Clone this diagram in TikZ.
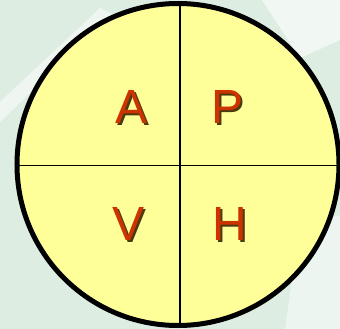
\documentclass[tikz,border=0pt]{standalone}
\usepackage{fontspec}
\setmainfont{Liberation Sans}
\definecolor{paper}{HTML}{DDEDE2}
\definecolor{disc}{HTML}{FFFF99}
\definecolor{letter}{HTML}{CC3300}
\definecolor{shade}{HTML}{4A3A10}
% letter with a small dark drop shadow
\newcommand{\shadowed}[1]{\rlap{\kern1.6pt\raisebox{-1.6pt}{\textcolor{shade}{#1}}}\textcolor{letter}{#1}}
\begin{document}
\begin{tikzpicture}[x=1pt, y=-1pt, every node/.style={font=\fontsize{48}{48}\selectfont, inner sep=0pt}]
        % faded map behind the disc
        \fill[paper] (0,0) rectangle (340,329);
        \fill[white, opacity=0.55] (0,102) -- (100,8) -- (112,14) -- (0,122) -- cycle;
        \fill[white, opacity=0.6] (262,0) -- (340,0) -- (340,40) -- (300,58) -- cycle;
        \fill[white, opacity=0.45] (300,225) -- (340,215) -- (340,329) -- (285,329) -- cycle;
        \useasboundingbox (0,0) rectangle (340,329);
        \coordinate (c) at (178,164.5);
        \coordinate (n) at (180,3);
        \coordinate (s) at (180,326);
        \coordinate (w) at (16,165.5);
        \coordinate (e) at (340,165.5);
        \fill[disc] (c) circle (161);
        \draw[line width=1.6pt] (n)--(s);
        \draw[line width=1.6pt] (w)--(e);
        \draw[line width=5pt] (c) circle (161);
        \node (a) at (132,108) {\shadowed{A}};
        \node (p) at (228,108) {\shadowed{P}};
        \node (v) at (129,225) {\shadowed{V}};
        \node (h) at (230,225) {\shadowed{H}};
    \end{tikzpicture}
\end{document}
